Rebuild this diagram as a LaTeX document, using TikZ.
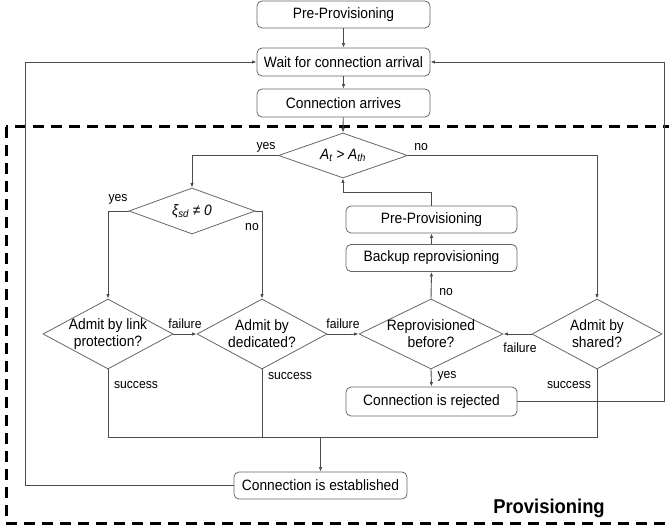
\documentclass[tikz,border=0pt]{standalone}
\usepackage{fontspec}
\setmainfont[FakeStretch=0.92]{Liberation Sans}
\usetikzlibrary{shapes.geometric,arrows.meta}

\begin{document}
\begin{tikzpicture}[x=1pt,y=-1pt,
  line/.style={draw=black!70, line width=0.9pt},
  arr/.style={line, -{Latex[length=4.5pt,width=3.5pt]}},
  box/.style={draw=black!60, line width=0.8pt, rounded corners=5pt,
    minimum height=27pt, minimum width=173pt, inner sep=0pt,
    font=\fontsize{15}{17}\selectfont},
  dec/.style={diamond, draw=black!60, line width=0.8pt, inner sep=0pt,
    minimum width=130pt, minimum height=70pt},
  dectext/.style={align=center, inner sep=0pt, font=\fontsize{15}{17}\selectfont},
  lbl/.style={inner sep=0pt, font=\fontsize{13.2}{15}\selectfont},
]
\useasboundingbox (0,0) rectangle (669,529);
\clip (0,0) rectangle (669,529);

% provisioning frame
\draw[black, line width=3pt, dash pattern=on 11pt off 7pt] (6,127) rectangle (700,523);
\node[inner sep=0pt, font=\bfseries\fontsize{20}{22}\selectfont] (ptitle) at (549,508) {Provisioning};

% main column
\node[box] (pre1) at (343.5,14.5) {Pre-Provisioning};
\node[box, minimum height=28pt] (wait) at (343.5,62) {Wait for connection arrival};
\node[box, minimum height=28pt] (arrive) at (343.5,103) {Connection arrives};

% decisions
\node[dec, minimum width=129pt, minimum height=45pt,
  label={[dectext]center:{\itshape A\textsubscript{t} > A\textsubscript{th}}}] (dAt) at (343,155.5) {};
\node[dec, minimum width=126pt, minimum height=46pt,
  label={[dectext]center:{\itshape ξ\textsubscript{sd} ≠ 0}}] (dXi) at (192,211) {};
\node[dec, label={[dectext]center:{Admit by link\\protection?}}] (dLink) at (108,334) {};
\node[dec, label={[dectext]center:{Admit by\\dedicated?}}] (dDed) at (262,334) {};
\node[dec, minimum width=144pt, label={[dectext]center:{Reprovisioned\\before?}}] (dRep) at (431,334) {};
\node[dec, label={[dectext]center:{Admit by\\shared?}}] (dSh) at (597,334) {};

% reprovisioning branch
\node[box, minimum width=171pt] (pre2) at (431.5,219.5) {Pre-Provisioning};
\node[box, minimum width=171pt] (backup) at (431.5,258) {Backup reprovisioning};
\node[box, minimum width=171pt, minimum height=29pt] (reject) at (431.5,401.5) {Connection is rejected};
\node[box] (estab) at (320.5,485.5) {Connection is established};

% routing rails
\coordinate (leftrail) at (25,0);
\coordinate (rightrail) at (664,0);
\coordinate (bus) at (0,437);
\coordinate (ret) at (0,192);

% connectors
\draw[arr] (pre1) -- (wait);
\draw[arr] (wait) -- (arrive);
\draw[arr] (arrive) -- (dAt.north);
\draw[arr] (dAt.west) -| (dXi.north);
\draw[arr] (dAt.east) -| (dSh.north);
\draw[arr] (dXi.west) -| (dLink.north);
\draw[arr] (dXi.east) -| (dDed.north);
\draw[arr] (dLink.east) -- (dDed.west);
\draw[arr] (dDed.east) -- (dRep.west);
\draw[arr] (dSh.west) -- (dRep.east);
\draw[arr] (dRep.north) -- (backup.south);
\draw[arr] (backup.north) -- (pre2.south);
\draw[arr] (pre2.north) -- (pre2.north |- ret) -| (dAt.south);
\draw[arr] (dRep.south) -- (reject.north);
\draw[arr] (reject.east) -| (rightrail |- wait.east) -- (wait.east);
\draw[arr] (estab.west) -| (leftrail |- wait.west) -- (wait.west);
\draw[line] (dLink.south) -- (dLink.south |- bus) -- (dSh.south |- bus) -- (dSh.south);
\draw[line] (dDed.south) -- (dDed.south |- bus);
\draw[arr] (estab.north |- bus) -- (estab.north);

% branch labels
\node[lbl] (lAtYes) at (266,147) {yes};
\node[lbl] (lAtNo) at (421,147) {no};
\node[lbl] (lXiYes) at (118,199) {yes};
\node[lbl] (lXiNo) at (252,227) {no};
\node[lbl] (lF1) at (185,324) {failure};
\node[lbl] (lF2) at (343,324) {failure};
\node[lbl] (lF3) at (520,348) {failure};
\node[lbl] (lRepNo) at (446,292) {no};
\node[lbl] (lRepYes) at (447,376) {yes};
\node[lbl] (lS1) at (136,385) {success};
\node[lbl] (lS2) at (290,376) {success};
\node[lbl] (lS3) at (569,385) {success};
\end{tikzpicture}
\end{document}
